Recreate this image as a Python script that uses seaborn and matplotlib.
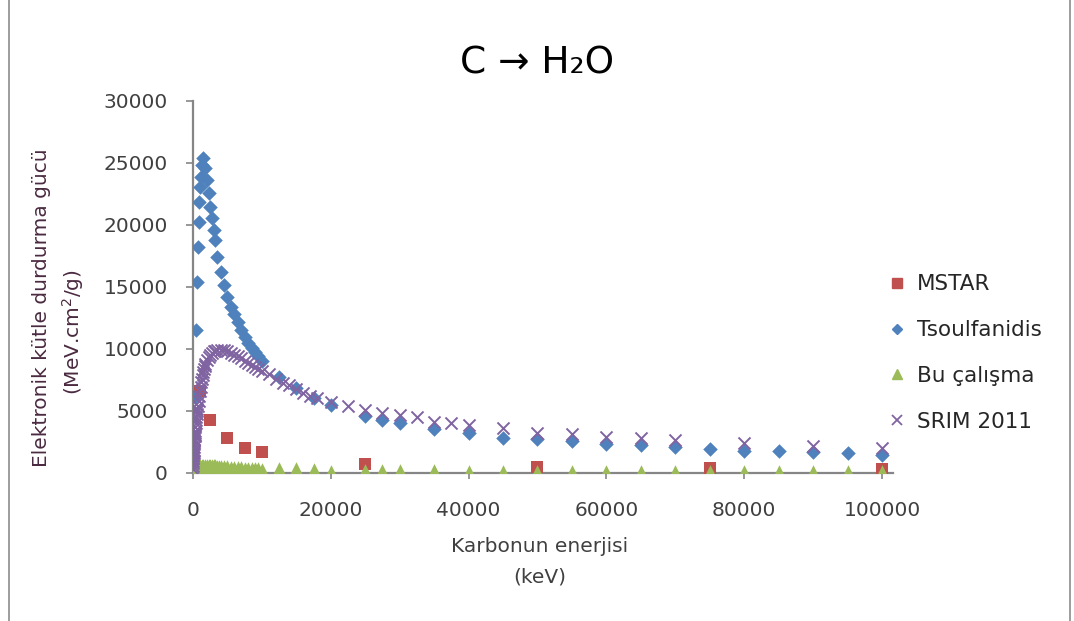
import numpy as np
import pandas as pd
import matplotlib
matplotlib.use("Agg")
import matplotlib.pyplot as plt
import seaborn as sns
from matplotlib.lines import Line2D

# ---------------- data (keV, MeV.cm2/g) ----------------
mstar_e = [1000, 2500, 5000, 7500, 10000, 25000, 50000, 75000, 100000]
mstar_s = [6600, 4300, 2800, 2000, 1700, 750, 480, 380, 330]

tsoul_e = [250, 500, 600, 700, 800, 900, 1000, 1100, 1250, 1500,
           1750, 2000, 2250, 2500, 2750, 3000, 3250, 3500, 4000, 4500,
           5000, 5500, 6000, 6500, 7000, 7500, 8000, 8500, 9000, 9500,
           10000, 12500, 15000, 17500, 20000, 25000, 27500, 30000, 35000, 40000,
           45000, 50000, 55000, 60000, 65000, 70000, 75000, 80000, 85000, 90000,
           95000, 100000]
tsoul_s = [6150, 11530, 15430, 18250, 20210, 21830, 23090, 23900, 24840, 25430,
           24570, 23630, 22550, 21480, 20590, 19600, 18790, 17440, 16230, 15160,
           14200, 13410, 12800, 12150, 11500, 10990, 10500, 10100, 9750, 9400,
           9000, 7770, 6830, 6020, 5480, 4620, 4270, 4000, 3550, 3200,
           2850, 2720, 2620, 2300, 2260, 2120, 1910, 1800, 1800, 1720,
           1640, 1450]

bu_e = [100, 200, 300, 400, 500, 600, 700, 800, 900, 1000,
        1250, 1500, 1750, 2000, 2250, 2500, 2750, 3000, 3250, 3500,
        3750, 4000, 4500, 5000, 5500, 6000, 6500, 7000, 7500, 8000,
        8500, 9000, 9500, 10000, 12500, 15000, 17500, 20000, 25000, 27500,
        30000, 35000, 40000, 45000, 50000, 55000, 60000, 65000, 70000, 75000,
        80000, 85000, 90000, 95000, 100000]
bu_s = [150, 250, 330, 400, 450, 490, 520, 540, 555, 565,
        580, 585, 585, 580, 570, 560, 550, 540, 525, 515,
        500, 490, 470, 450, 430, 410, 390, 370, 350, 330,
        310, 300, 285, 270, 330, 300, 270, 60, 180, 150,
        140, 130, 120, 110, 100, 95, 90, 85, 80, 75,
        70, 65, 60, 55, 50]

srim_e = [10, 20, 30, 40, 50, 60, 70, 80, 90, 100,
          125, 150, 175, 200, 225, 250, 275, 300, 350, 400,
          450, 500, 550, 600, 650, 700, 800, 900, 1000, 1100,
          1200, 1300, 1400, 1500, 1600, 1700, 1800, 2000, 2250, 2500,
          2750, 3000, 3250, 3500, 4000, 4500, 5000, 5500, 6000, 6500,
          7000, 7500, 8000, 8500, 9000, 9500, 10000, 11000, 12000, 13000,
          14000, 15000, 16000, 17000, 18000, 20000, 22500, 25000, 27500, 30000,
          32500, 35000, 37500, 40000, 45000, 50000, 55000, 60000, 65000, 70000,
          80000, 90000, 100000]
srim_s = [300, 550, 800, 1000, 1200, 1350, 1500, 1650, 1750, 1850,
          2100, 2350, 2550, 2750, 2950, 3100, 3250, 3400, 3700, 4000,
          4250, 4500, 4750, 5000, 5200, 5400, 5800, 6200, 6600, 6950,
          7300, 7600, 7900, 8150, 8400, 8600, 8800, 9100, 9350, 9550,
          9700, 9800, 9870, 9920, 9950, 9900, 9800, 9700, 9550, 9400,
          9250, 9050, 8900, 8700, 8550, 8400, 8250, 7950, 7550, 7250,
          7100, 6750, 6450, 6250, 6080, 5750, 5400, 5080, 4810, 4680,
          4490, 4140, 4010, 3870, 3600, 3250, 3120, 2930, 2800, 2660,
          2390, 2180, 2000]

labels = ["MSTAR", "Tsoulfanidis", "Bu çalışma", "SRIM 2011"]
colors = ["#C0504D", "#4F81BD", "#9BBB59", "#8064A2"]
x_ticks = [0, 20000, 40000, 60000, 80000, 100000]
y_ticks = [0, 5000, 10000, 15000, 20000, 25000, 30000]

# ---------------- figure ----------------
sns.set_theme(style="white")
plt.rcParams["font.family"] = ["DejaVu Sans"]

W, H = 1074, 621
fig = plt.figure(figsize=(W / 100, H / 100), dpi=100)
ax = fig.add_axes([193 / W, 1 - 473 / H, 700 / W, 372 / H])

series = [
    (mstar_e, mstar_s, "s", 85, None),
    (tsoul_e, tsoul_s, "D", 55, None),
    (bu_e, bu_s, "^", 110, None),
    (srim_e, srim_s, "x", 75, 1.4),
]
for (e, s, m, sz, lw), lab, col in zip(series, labels, colors):
    df = pd.DataFrame({"E": e, "S": s})
    kw = dict(linewidth=lw) if lw else dict(linewidth=0)
    sns.scatterplot(data=df, x="E", y="S", ax=ax, marker=m, s=sz,
                    color=col, edgecolor=None if m == "x" else col, label=lab,
                    legend=False, zorder=3, **kw)

ax.set_xlim(0, 101600)
ax.set_ylim(0, 30000)
ax.set_xticks(x_ticks)
ax.set_yticks(y_ticks)
ax.set_xticklabels([str(v) for v in x_ticks])
ax.set_yticklabels([str(v) for v in y_ticks])
for sp in ["top", "right"]:
    ax.spines[sp].set_visible(False)
for sp in ["left", "bottom"]:
    ax.spines[sp].set_color("#868686")
    ax.spines[sp].set_linewidth(1.6)
ax.tick_params(axis="y", which="major", direction="out", length=5, width=1.2,
               color="#868686", labelsize=14.5, labelcolor="#404040", pad=13, left=True)
ax.tick_params(axis="x", which="major", direction="out", length=4, width=1.2,
               color="#868686", labelsize=14.5, labelcolor="#404040", pad=16, bottom=True)
ax.set_xlabel("")
ax.set_ylabel("")
ax.grid(False)

fig.text(537 / W, 1 - 63 / H, "C → H₂O", ha="center", va="center",
         fontsize=27, color="#000000")

ycol = "#4a2a40"
fig.text(42 / W, 1 - 308 / H, "Elektronik kütle durdurma gücü", rotation=90,
         ha="center", va="center", fontsize=14.5, color=ycol)
fig.text(73 / W, 1 - 332 / H, "(MeV.cm$^2$/g)", rotation=90,
         ha="center", va="center", fontsize=14.5, color=ycol)

fig.text(540 / W, 1 - 547 / H, "Karbonun enerjisi", ha="center", va="center",
         fontsize=14.5, color="#404040")
fig.text(540 / W, 1 - 577 / H, "(keV)", ha="center", va="center",
         fontsize=14.5, color="#404040")

handles = [
    Line2D([], [], linestyle="none", marker="s", markersize=7, color=colors[0]),
    Line2D([], [], linestyle="none", marker="D", markersize=5.5, color=colors[1]),
    Line2D([], [], linestyle="none", marker="^", markersize=7.5, color=colors[2]),
    Line2D([], [], linestyle="none", marker="x", markersize=7, color=colors[3], markeredgewidth=1.3),
]
fig.legend(handles, labels, loc="center left", bbox_to_anchor=(875 / W, 1 - 353 / H),
           frameon=False, fontsize=15.5, labelspacing=1.2, handlelength=1.0,
           handletextpad=0.45, borderpad=0, labelcolor="#262626")

# outer chart frame (left and right edges)
frame_col = "#8c8c8c"
fig.add_artist(Line2D([9 / W, 9 / W], [0.0, 1.0], transform=fig.transFigure,
                      color=frame_col, linewidth=1.2))
fig.add_artist(Line2D([1070 / W, 1070 / W], [0.0, 1.0], transform=fig.transFigure,
                      color=frame_col, linewidth=1.2))

fig.savefig("out.png", dpi=100, facecolor="white")
